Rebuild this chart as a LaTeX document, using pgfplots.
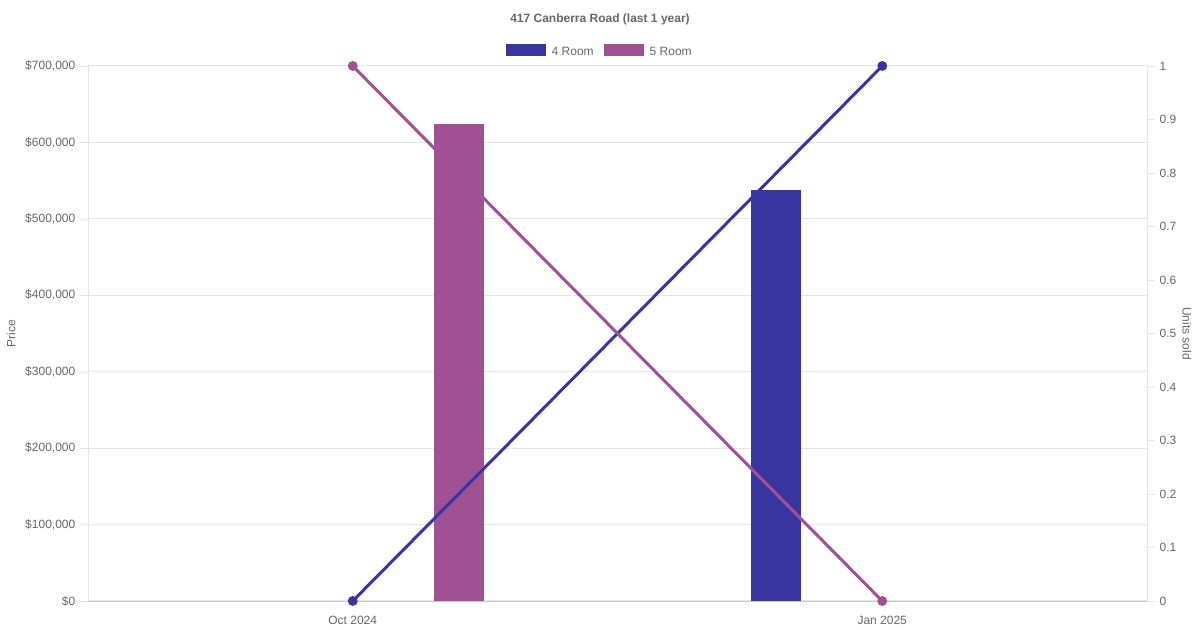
\documentclass[border=0pt]{standalone}
\usepackage{pgfplots}
\pgfplotsset{compat=1.18}
\usepackage{fontspec}
\setmainfont{Liberation Sans}
\definecolor{roomfour}{RGB}{57,53,160}
\definecolor{roomfive}{RGB}{160,81,148}
\definecolor{txtgray}{RGB}{102,102,102}
\definecolor{gridgray}{RGB}{229,229,229}
\definecolor{basegray}{RGB}{200,200,200}

\pgfplotsset{
  chartbase/.style={
    at={(66pt,21.75pt)}, anchor=south west,
    scale only axis, width=794.25pt, height=401.25pt,
    xmin=-0.5, xmax=1.5,
    tick align=outside, major tick length=6pt,
    every tick label/.append style={font=\fontsize{9}{11}\selectfont, text=txtgray},
    label style={font=\fontsize{9}{11}\selectfont, text=txtgray},
  },
}

\begin{document}
\begin{tikzpicture}
\path[use as bounding box] (0,0) rectangle (900pt,472.5pt);
\node[font=\fontsize{9}{11}\selectfont\bfseries, text=txtgray] at (450pt,458.25pt) {417 Canberra Road (last 1 year)};

% prices (bars, left axis)
\begin{axis}[
  chartbase,
  ymin=0, ymax=700000,
  axis x line*=bottom, axis y line*=left,
  x axis line style={draw=basegray, -},
  y axis line style={draw=gridgray, -},
  xtick={0,1}, xticklabels={Oct 2024, Jan 2025},
  xtick style={draw=none},
  xticklabel style={yshift=-1.5pt},
  ytick={0,100000,...,700000},
  ytick style={draw=gridgray},
  scaled y ticks=false,
  yticklabel={\$\pgfmathprintnumber[fixed,1000 sep={,},assume math mode=true]{\tick}},
  ymajorgrids, grid style={gridgray, line width=0.75pt},
  ylabel={Price},
  ylabel style={at={(axis description cs:-0.0727,0.5)}, anchor=center},
  ybar=121.5pt, bar width=37.5pt,
  legend columns=2,
  legend style={draw=none, fill=none, at={(axis description cs:0.4835,1.0265)}, anchor=center,
    font=\fontsize{9}{11}\selectfont, text=txtgray,
    /tikz/every even column/.append style={column sep=5.5pt}},
]
\addplot[fill=roomfour, draw=none,
  legend image code/.code={\fill[roomfour] (0pt,-3pt) rectangle (30pt,6pt); \path (32.5pt,0pt);}]
  coordinates {(1,538000)};
\addlegendentry{4 Room}
\addplot[fill=roomfive, draw=none,
  legend image code/.code={\fill[roomfive] (0pt,-3pt) rectangle (30pt,6pt); \path (32.5pt,0pt);}]
  coordinates {(0,624000)};
\addlegendentry{5 Room}
\end{axis}

% units sold (lines, right axis)
\begin{axis}[
  chartbase,
  ymin=0, ymax=1,
  axis x line=none, axis y line*=right,
  y axis line style={draw=gridgray, -},
  ytick={0,0.1,0.2,0.3,0.4,0.5,0.6,0.7,0.8,0.9,1},
  ytick style={draw=gridgray},
  yticklabel style={/pgf/number format/.cd, fixed, precision=1, assume math mode=true},
  ylabel={Units sold},
  ylabel style={at={(axis description cs:1.0378,0.5)}, anchor=center, rotate=180},
  clip=false,
]
\addplot[roomfour, line width=2.25pt, mark=*, mark size=2.5pt] coordinates {(0,0) (1,1)};
\addplot[roomfive, line width=2.25pt, mark=*, mark size=2.5pt] coordinates {(0,1) (1,0)};
\end{axis}
\end{tikzpicture}
\end{document}
